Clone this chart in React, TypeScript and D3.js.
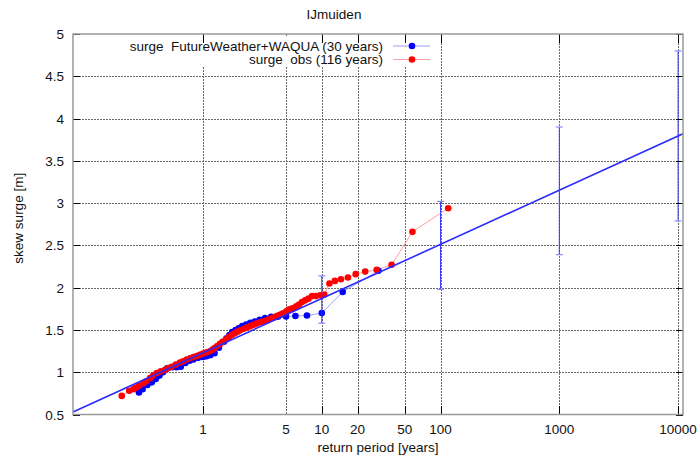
import React from "react";
import * as d3 from "d3";

// observed skew surge (116 years), return period [years] and surge [m]
const obsRP = [
  116, 58, 38.7, 29, 23.2, 19.3, 16.6, 14.5, 12.9, 11.6, 10.5, 9.67, 8.92, 8.29, 7.73, 7.25, 6.82, 6.44, 6.1, 5.8,
  5.52, 5.27, 5.04, 4.83, 4.64, 4.46, 4.3, 4.14, 4.0, 3.8, 3.6, 3.4, 3.2, 3.02, 2.82, 2.65, 2.49, 2.35, 2.2, 2.05,
  1.95, 1.85, 1.744, 1.65, 1.56, 1.46, 1.39, 1.32, 1.262, 1.21, 1.15, 1.074, 1.0, 0.94, 0.885, 0.83, 0.78, 0.729,
  0.68, 0.64, 0.59, 0.545, 0.51, 0.479, 0.44, 0.407, 0.38, 0.358, 0.33, 0.314, 0.29, 0.273, 0.26, 0.239, 0.207,
];
const obsSurge = [
  2.94, 2.66, 2.27, 2.21, 2.19, 2.16, 2.12, 2.1, 2.08, 2.05, 1.92, 1.91, 1.9, 1.9, 1.87, 1.85, 1.83, 1.8, 1.78, 1.76,
  1.75, 1.74, 1.72, 1.7, 1.69, 1.68, 1.67, 1.66, 1.65, 1.64, 1.625, 1.61, 1.6, 1.59, 1.575, 1.56, 1.545, 1.53, 1.515, 1.495,
  1.48, 1.46, 1.44, 1.415, 1.39, 1.36, 1.335, 1.31, 1.29, 1.27, 1.25, 1.235, 1.22, 1.205, 1.19, 1.18, 1.165, 1.15,
  1.13, 1.115, 1.09, 1.065, 1.05, 1.03, 1.01, 0.99, 0.96, 0.93, 0.89, 0.87, 0.84, 0.82, 0.8, 0.78, 0.72,
];

// FutureWeather+WAQUA (30 years)
const fwRP = [
  30, 15, 10, 7.5, 6, 5, 4.29, 3.75, 3.33, 3, 2.73, 2.5, 2.31, 2.14, 2, 1.88, 1.76, 1.67, 1.58, 1.5,
  1.36, 1.25, 1.15, 1.07, 1.0, 0.91, 0.83, 0.77, 0.71, 0.65, 0.6, 0.55, 0.5, 0.46, 0.43, 0.4, 0.37, 0.34, 0.31, 0.289,
];
const fwSurge = [
  2.2, 1.95, 1.7, 1.67, 1.665, 1.66, 1.658, 1.655, 1.64, 1.62, 1.6, 1.585, 1.565, 1.547, 1.52, 1.5, 1.476, 1.44, 1.4, 1.36,
  1.29, 1.225, 1.2, 1.19, 1.18, 1.17, 1.15, 1.136, 1.11, 1.065, 1.06, 1.058, 1.045, 1.0, 0.96, 0.92, 0.88, 0.85, 0.8, 0.76,
];

// fitted line and confidence bars
const fitRP = [0.0804, 11000];
const fitSurge = [0.53, 3.82];
const errRP = [10, 100, 1000, 10000];
const errLow = [1.58, 1.98, 2.39, 2.79];
const errHigh = [2.14, 3.02, 3.9, 4.8];

const xTicks = [1, 5, 10, 20, 50, 100, 1000, 10000];
const yTicks = [0.5, 1, 1.5, 2, 2.5, 3, 3.5, 4, 4.5, 5];

const W = 698;
const H = 456;
const m = { left: 73, right: 683, top: 34, bottom: 414.5 };
const font = "'Liberation Sans', Arial, sans-serif";

export default function App() {
  const x = d3.scaleLog().domain([0.0804, 11000]).range([m.left, m.right]);
  const y = d3.scaleLinear().domain([0.5, 5]).range([m.bottom, m.top]);

  const obs = obsRP.map((r, i) => [r, obsSurge[i]] as [number, number]);
  const fw = fwRP.map((r, i) => [r, fwSurge[i]] as [number, number]);
  const line = d3
    .line<[number, number]>()
    .x((d) => x(d[0]))
    .y((d) => y(d[1]));
  const fit = fitRP.map((r, i) => [r, fitSurge[i]] as [number, number]);

  // legend box hides the grid behind it
  const legTop = 37;
  const legBottom = 67;

  return (
    <svg
      width={W}
      height={H}
      style={{ position: "absolute", left: 0, top: 0, background: "#fff" }}
      fontFamily={font}
    >
      <rect width={W} height={H} fill="#fff" />
      {/* grid */}
      <g stroke="#6a6a6a" strokeDasharray="2,1" strokeWidth={1} shapeRendering="crispEdges">
        {yTicks.slice(1, -1).map((t) => (
          <line key={t} x1={m.left} x2={m.right} y1={Math.round(y(t)) + 0.5} y2={Math.round(y(t)) + 0.5} />
        ))}
        {xTicks.map((t) => (
          <line key={t} x1={Math.round(x(t)) + 0.5} x2={Math.round(x(t)) + 0.5} y1={m.top} y2={m.bottom} />
        ))}
      </g>
      <rect x={120} y={legTop} width={308} height={legBottom - legTop} fill="#fff" />

      {/* data */}
      <path d={line(fw) || ""} fill="none" stroke="#9f9fff" strokeWidth={1} />
      <path d={line(obs) || ""} fill="none" stroke="#ffa0a0" strokeWidth={1} />
      {fw.map((d, i) => (
        <circle key={"b" + i} cx={x(d[0])} cy={y(d[1])} r={3.3} fill="#0000ff" />
      ))}
      {obs.map((d, i) => (
        <circle key={"r" + i} cx={x(d[0])} cy={y(d[1])} r={3.3} fill="#ff0000" />
      ))}
      <path d={line(fit) || ""} fill="none" stroke="#2a2aff" strokeWidth={1.6} />

      {/* error bars */}
      {errRP.map((r, i) => (
        <g key={r} stroke="#3535ff">
          <line x1={x(r)} x2={x(r)} y1={y(errLow[i])} y2={y(errHigh[i])} strokeWidth={1} />
          <line x1={x(r) - 3.5} x2={x(r) + 3.5} y1={y(errLow[i])} y2={y(errLow[i])} stroke="#8c8cff" strokeWidth={1.2} />
          <line x1={x(r) - 3.5} x2={x(r) + 3.5} y1={y(errHigh[i])} y2={y(errHigh[i])} stroke="#8c8cff" strokeWidth={1.2} />
        </g>
      ))}

      {/* ticks */}
      <g stroke="#000" strokeWidth={1} shapeRendering="crispEdges">
        {yTicks.map((t) => (
          <g key={t}>
            <line x1={m.left} x2={m.left + 7} y1={Math.round(y(t)) + 0.5} y2={Math.round(y(t)) + 0.5} />
            <line x1={m.right - 7} x2={m.right} y1={Math.round(y(t)) + 0.5} y2={Math.round(y(t)) + 0.5} />
          </g>
        ))}
        {xTicks.filter((t) => t !== 5).map((t) => (
          <g key={t}>
            <line x1={Math.round(x(t)) + 0.5} x2={Math.round(x(t)) + 0.5} y1={m.bottom - 9} y2={m.bottom} />
            <line x1={Math.round(x(t)) + 0.5} x2={Math.round(x(t)) + 0.5} y1={m.top} y2={m.top + 9} />
          </g>
        ))}
      </g>
      <rect
        x={m.left}
        y={m.top}
        width={m.right - m.left}
        height={m.bottom - m.top}
        fill="none"
        stroke="#999"
        strokeWidth={1.5}
      />

      {/* axis labels */}
      <g fontSize={13.5} fill="#111">
        {yTicks.map((t) => (
          <text key={t} x={64} y={y(t) + 5} textAnchor="end">
            {t}
          </text>
        ))}
        {xTicks.map((t) => (
          <text key={t} x={x(t)} y={434} textAnchor="middle">
            {t}
          </text>
        ))}
        <text x={(m.left + m.right) / 2} y={452} textAnchor="middle">
          return period [years]
        </text>
        <text transform={`translate(23,${(m.top + m.bottom) / 2 - 6}) rotate(-90)`} textAnchor="middle">
          skew surge [m]
        </text>
        <text x={334} y={19} textAnchor="middle">
          IJmuiden
        </text>
      </g>

      {/* legend */}
      <g fontSize={13.5} fill="#111">
        <text x={383} y={50.5} textAnchor="end" xmlSpace="preserve">
          {"surge  FutureWeather+WAQUA (30 years)"}
        </text>
        <line x1={393} x2={430} y1={46} y2={46} stroke="#9f9fff" />
        <circle cx={412} cy={46} r={3.3} fill="#0000ff" />
        <text x={383} y={64} textAnchor="end" xmlSpace="preserve">
          {"surge  obs (116 years)"}
        </text>
        <line x1={393} x2={430} y1={59.5} y2={59.5} stroke="#ffa0a0" />
        <circle cx={412} cy={59.5} r={3.3} fill="#ff0000" />
      </g>
    </svg>
  );
}
